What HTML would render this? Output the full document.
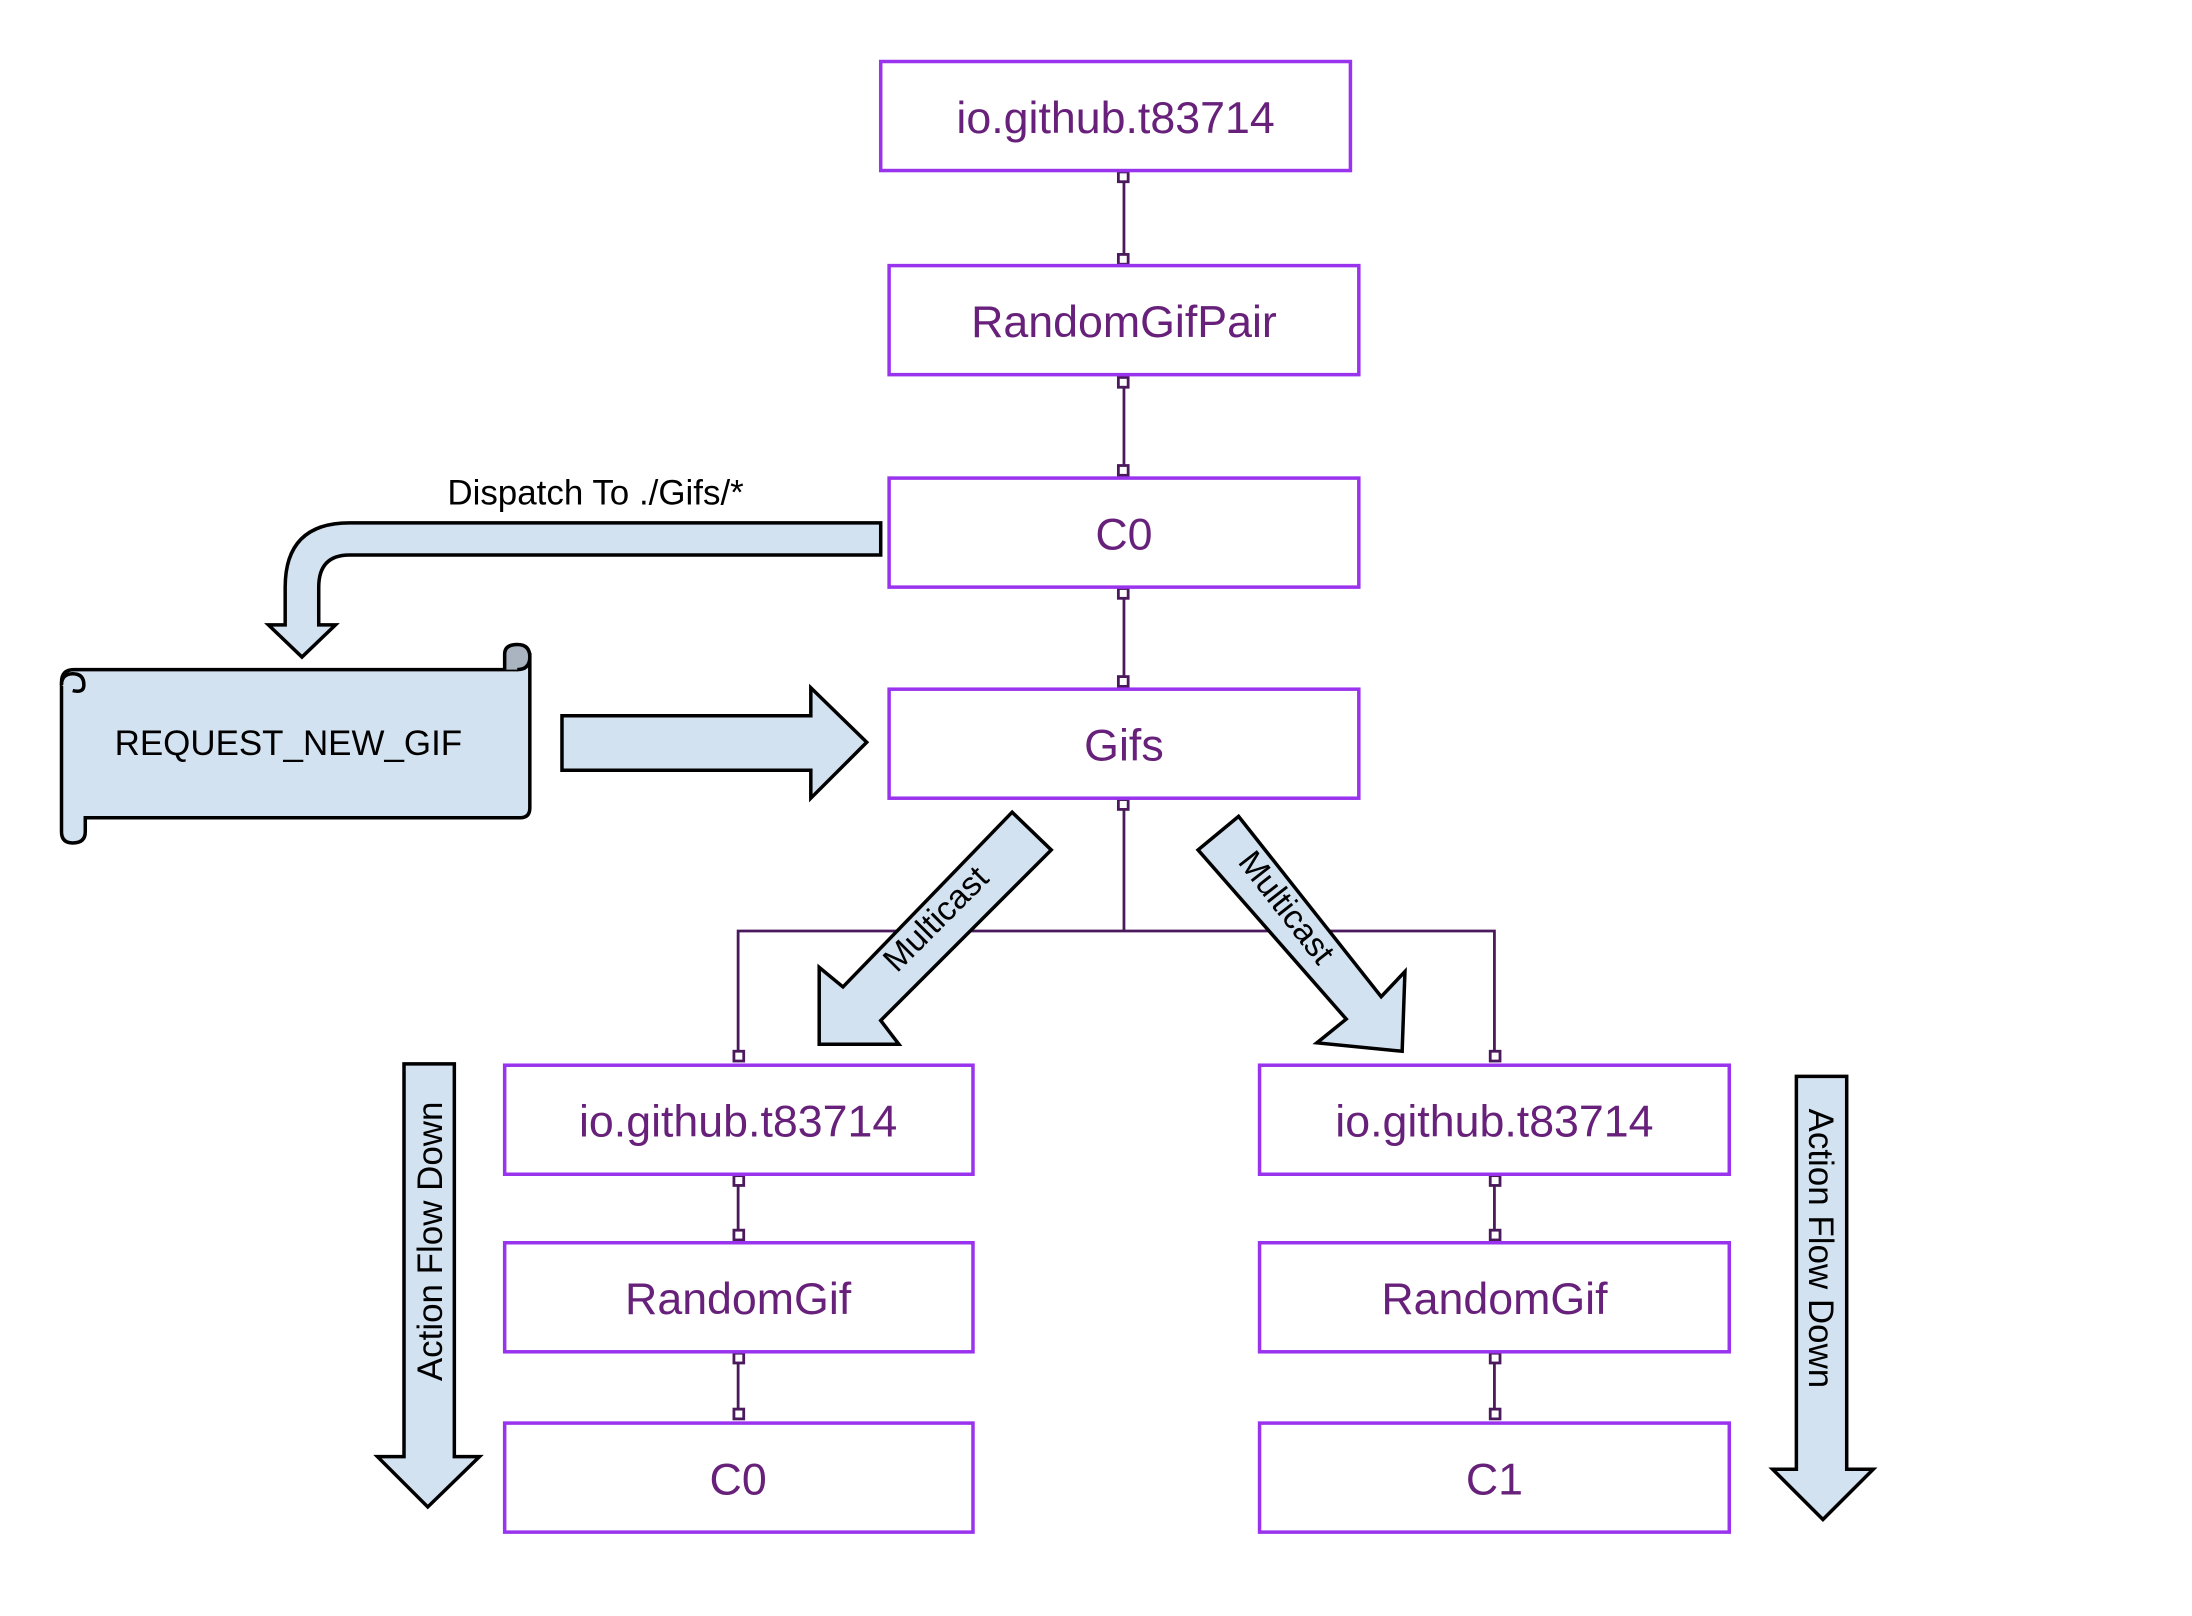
<!DOCTYPE html>
<html><head><meta charset="utf-8"><style>html,body{margin:0;padding:0;background:#fff}svg{display:block}</style></head>
<body>
<svg width="2192" height="1616" viewBox="0 0 1568 1156" preserveAspectRatio="none" xmlns="http://www.w3.org/2000/svg">
<g font-family="Liberation Sans, sans-serif">
<g stroke="#4b1a5c" stroke-width="2" fill="none">
<line x1="804" y1="126" x2="804" y2="186"/>
<line x1="804" y1="272" x2="804" y2="338"/>
<line x1="804" y1="424" x2="804" y2="489"/>
<line x1="804" y1="575" x2="804" y2="666"/>
<polyline points="528,758 528,666 1069,666 1069,758"/>
<line x1="528" y1="844" x2="528" y2="885"/>
<line x1="528" y1="971" x2="528" y2="1013"/>
<line x1="1069" y1="844" x2="1069" y2="885"/>
<line x1="1069" y1="971" x2="1069" y2="1013"/>
</g>
<g fill="#fff" stroke="#4b1a5c" stroke-width="2">
<rect x="800" y="123" width="7" height="7"/><rect x="800" y="182" width="7" height="7"/>
<rect x="800" y="270" width="7" height="7"/><rect x="800" y="333" width="7" height="7"/>
<rect x="800" y="421" width="7" height="7"/><rect x="800" y="484" width="7" height="7"/>
<rect x="800" y="572" width="7" height="7"/>
<rect x="525" y="752" width="7" height="7"/><rect x="1066" y="752" width="7" height="7"/>
<rect x="525" y="841" width="7" height="7"/><rect x="525" y="880" width="7" height="7"/>
<rect x="525" y="968" width="7" height="7"/><rect x="525" y="1008" width="7" height="7"/>
<rect x="1066" y="841" width="7" height="7"/><rect x="1066" y="880" width="7" height="7"/>
<rect x="1066" y="968" width="7" height="7"/><rect x="1066" y="1008" width="7" height="7"/>
</g>
<g fill="#fff" stroke="#9933ee" stroke-width="2.5">
<rect x="630" y="44" width="336" height="78"/>
<rect x="636" y="190" width="336" height="78"/>
<rect x="636" y="342" width="336" height="78"/>
<rect x="636" y="493" width="336" height="78"/>
<rect x="361" y="762" width="335" height="78"/>
<rect x="361" y="889" width="335" height="78"/>
<rect x="361" y="1018" width="335" height="78"/>
<rect x="901" y="762" width="336" height="78"/>
<rect x="901" y="889" width="336" height="78"/>
<rect x="901" y="1018" width="336" height="78"/>
</g>
<g fill="#68217a" font-size="32" text-anchor="middle">
<text x="798" y="95">io.github.t83714</text>
<text x="804" y="241">RandomGifPair</text>
<text x="804" y="393">C0</text>
<text x="804" y="544">Gifs</text>
<text x="528" y="813">io.github.t83714</text>
<text x="528" y="940">RandomGif</text>
<text x="528" y="1069">C0</text>
<text x="1069" y="813">io.github.t83714</text>
<text x="1069" y="940">RandomGif</text>
<text x="1069" y="1069">C1</text>
</g>
<g fill="#d3e2f0" stroke="#000" stroke-width="2.5" stroke-linejoin="miter">
<path d="M630,374 L250,374 Q204,374 204,420 L204,447 L192,447 L216,470 L240,447 L228,447 L228,420 Q228,397 250,397 L630,397 Z"/>
<path d="M402,512 L580,512 L580,492 L620,531 L580,571 L580,551 L402,551 Z"/>
<path d="M724,581 L752,608 L630,730 L643,747 L586,747 L586,692 L603,706 Z"/>
<path d="M886,584 L857,608 L963,729 L942,746 L1003,752 L1005,695 L988,713 Z"/>
<path d="M289,761 L325,761 L325,1042 L343,1042 L306,1078 L270,1042 L289,1042 Z"/>
<path d="M1285,770 L1321,770 L1321,1051 L1340,1051 L1304,1087 L1268,1051 L1285,1051 Z"/>
<path d="M53,479 L370,479 L379,470 L379,578 Q379,585 372,585 L61,585 L61,595 Q61,603 52,603 Q44,603 44,595 L44,488 Q44,479 53,479 Z"/>
<path d="M361,479 L361,468 Q361,461 370,461 Q379,461 379,470 Q379,479 370,479" fill="#aab4c0"/>
<path d="M44,490 Q44,482 52,482 Q60,482 60,490 Q60,496 52,494"/>
</g>
<g font-size="25" fill="#000">
<text x="320" y="361">Dispatch To ./Gifs/*</text>
<text x="82" y="540">REQUEST_NEW_GIF</text>
<text transform="translate(675,663) rotate(-45)" text-anchor="middle" font-size="24">Multicast</text>
<text transform="translate(914,654) rotate(52)" text-anchor="middle" font-size="24">Multicast</text>
<text transform="translate(316,888) rotate(-90)" text-anchor="middle">Action Flow Down</text>
<text transform="translate(1294,893) rotate(90)" text-anchor="middle">Action Flow Down</text>
</g>
</g>
</svg>
</body></html>
